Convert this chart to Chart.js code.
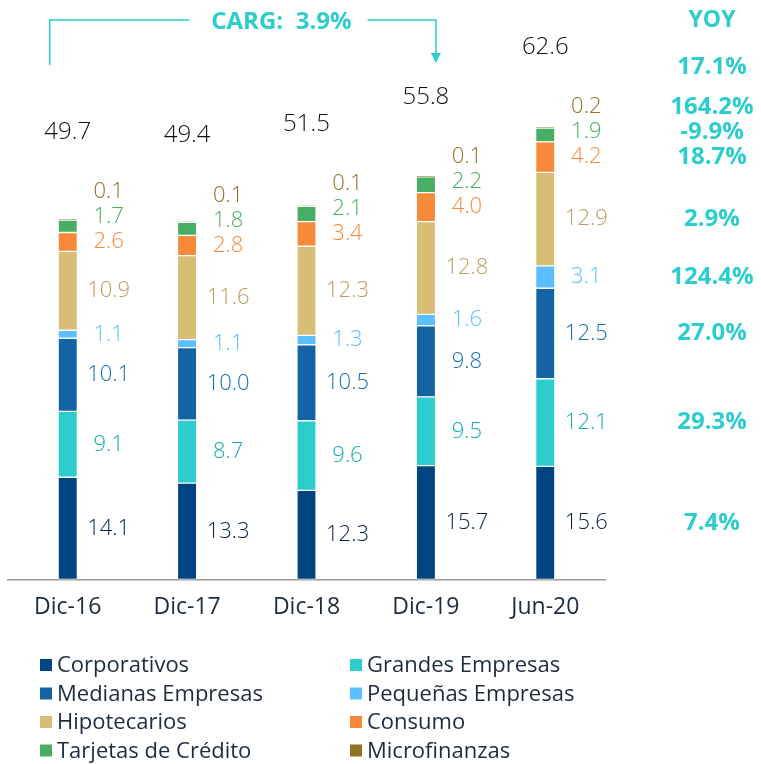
<!DOCTYPE html>
<html>
<head>
<meta charset="utf-8">
<script src="https://cdn.jsdelivr.net/npm/chart.js@4"></script>
<style>
  html, body { margin: 0; padding: 0; background: #fff; }
  #wrap { width: 761px; height: 764px; }
</style>
</head>
<body>
<div id="wrap"><canvas id="loansChart" width="761" height="764"></canvas></div>
<script>
// Chart data
const categories = ['Dic-16', 'Dic-17', 'Dic-18', 'Dic-19', 'Jun-20'];
const corporativos = [14.1, 13.3, 12.3, 15.7, 15.6];
const grandesEmpresas = [9.1, 8.7, 9.6, 9.5, 12.1];
const medianasEmpresas = [10.1, 10.0, 10.5, 9.8, 12.5];
const pequenasEmpresas = [1.1, 1.1, 1.3, 1.6, 3.1];
const hipotecarios = [10.9, 11.6, 12.3, 12.8, 12.9];
const consumo = [2.6, 2.8, 3.4, 4.0, 4.2];
const tarjetas = [1.7, 1.8, 2.1, 2.2, 1.9];
const microfinanzas = [0.1, 0.1, 0.1, 0.1, 0.2];
const totals = [49.7, 49.4, 51.5, 55.8, 62.6];
// YOY growth, same order as the segments, plus the total
const yoySegments = ['7.4%', '29.3%', '27.0%', '124.4%', '2.9%', '18.7%', '-9.9%', '164.2%'];
const yoyTotal = '17.1%';
const cargText = 'CARG:  3.9%';

const FONT = '"Open Sans", sans-serif';
const TEAL = '#2DCCCD';

const series = [
    { label: 'Corporativos', data: corporativos, color: '#004481', text: '#072146' },
    { label: 'Grandes Empresas', data: grandesEmpresas, color: '#2DCCCD', text: '#14AFAF' },
    { label: 'Medianas Empresas', data: medianasEmpresas, color: '#1464A5', text: '#1570B5' },
    { label: 'Pequeñas Empresas', data: pequenasEmpresas, color: '#5BBEFF', text: '#5BBEFF' },
    { label: 'Hipotecarios', data: hipotecarios, color: '#D8BE75', text: '#B99E60' },
    { label: 'Consumo', data: consumo, color: '#F7893B', text: '#F7893B' },
    { label: 'Tarjetas de Crédito', data: tarjetas, color: '#48AE64', text: '#48AE64' },
    { label: 'Microfinanzas', data: microfinanzas, color: '#8F7225', text: '#8F7225' }
];

// labels beside each segment, totals, YOY column, CARG bracket and legend
const annotations = {
    id: 'annotations',
    afterDatasetsDraw(chart) {
        const ctx = chart.ctx;
        const n = categories.length;
        ctx.save();
        ctx.textAlign = 'center';
        ctx.textBaseline = 'middle';

        let lastLabels = [];
        for (let i = 0; i < n; i++) {
            let prevY = Infinity;
            let barX = 0;
            const ys = [];
            chart.data.datasets.forEach((ds, j) => {
                const bar = chart.getDatasetMeta(j).data[i];
                barX = bar.x;
                let y = Math.min((bar.y + bar.base) / 2, prevY - 25);
                prevY = y;
                ys.push(y);
                ctx.font = '300 22px ' + FONT;
                ctx.fillStyle = series[j].text;
                ctx.fillText(ds.data[i].toFixed(1), barX + 41, y);
            });
            ctx.font = '300 24px ' + FONT;
            ctx.fillStyle = '#111111';
            ctx.fillText(totals[i].toFixed(1), barX, prevY - 60);
            lastLabels = ys;
        }

        // YOY column aligned with the last bar's labels
        const yoyX = 712;
        ctx.font = 'bold 23px ' + FONT;
        ctx.fillStyle = TEAL;
        ctx.fillText('YOY', yoyX, 20);
        ctx.font = 'bold 24px ' + FONT;
        ctx.fillText(yoyTotal, yoyX, lastLabels[lastLabels.length - 1] - 40);
        lastLabels.forEach((y, j) => ctx.fillText(yoySegments[j], yoyX, y));

        // CARG bracket from first bar to the Dic-19 bar
        const x0 = chart.getDatasetMeta(0).data[0].x - 18;
        const x1 = chart.getDatasetMeta(0).data[3].x + 10;
        const topY = 20;
        const textX = x0 + (x1 - x0) * 0.6;
        ctx.font = 'bold 24px ' + FONT;
        const tw = ctx.measureText(cargText).width;
        ctx.strokeStyle = TEAL;
        ctx.lineWidth = 1.5;
        ctx.beginPath();
        ctx.moveTo(x0, 65);
        ctx.lineTo(x0, topY);
        ctx.lineTo(textX - tw / 2 - 22, topY);
        ctx.moveTo(textX + tw / 2 + 16, topY);
        ctx.lineTo(x1, topY);
        ctx.lineTo(x1, 54);
        ctx.stroke();
        ctx.fillStyle = TEAL;
        ctx.beginPath();
        ctx.moveTo(x1 - 5, 53);
        ctx.lineTo(x1 + 5, 53);
        ctx.lineTo(x1, 63);
        ctx.closePath();
        ctx.fill();
        ctx.fillText(cargText, textX, topY + 2);

        // legend, two columns
        ctx.textAlign = 'left';
        ctx.font = '22px ' + FONT;
        series.forEach((s, j) => {
            const col = j % 2;
            const row = Math.floor(j / 2);
            const mx = col === 0 ? 40 : 350;
            const my = 665 + row * 28.5;
            ctx.fillStyle = s.color;
            ctx.fillRect(mx, my - 6, 12, 12);
            ctx.fillStyle = '#1D2B3F';
            ctx.fillText(s.label, mx + 17, my + 1);
        });
        ctx.restore();
    }
};

const chart = new Chart(document.getElementById('loansChart').getContext('2d'), {
    type: 'bar',
    data: {
        labels: categories,
        datasets: series.map(s => ({
            label: s.label,
            data: s.data,
            backgroundColor: s.color,
            borderColor: '#ffffff',
            borderWidth: { top: 1, bottom: 1, left: 0, right: 0 },
            borderSkipped: false,
            barThickness: 18
        }))
    },
    options: {
        responsive: false,
        animation: false,
        layout: { padding: { left: 8, right: 156, top: 0, bottom: 137 } },
        plugins: {
            legend: { display: false },
            tooltip: { enabled: false }
        },
        scales: {
            x: {
                stacked: true,
                grid: { display: false },
                border: { display: true, color: '#9a9a9a', width: 1.5 },
                ticks: { color: '#1D2B3F', font: { family: FONT, size: 23 }, padding: 6 }
            },
            y: {
                stacked: true,
                display: false,
                min: 0,
                max: 80
            }
        }
    },
    plugins: [annotations]
});
</script>
</body>
</html>
